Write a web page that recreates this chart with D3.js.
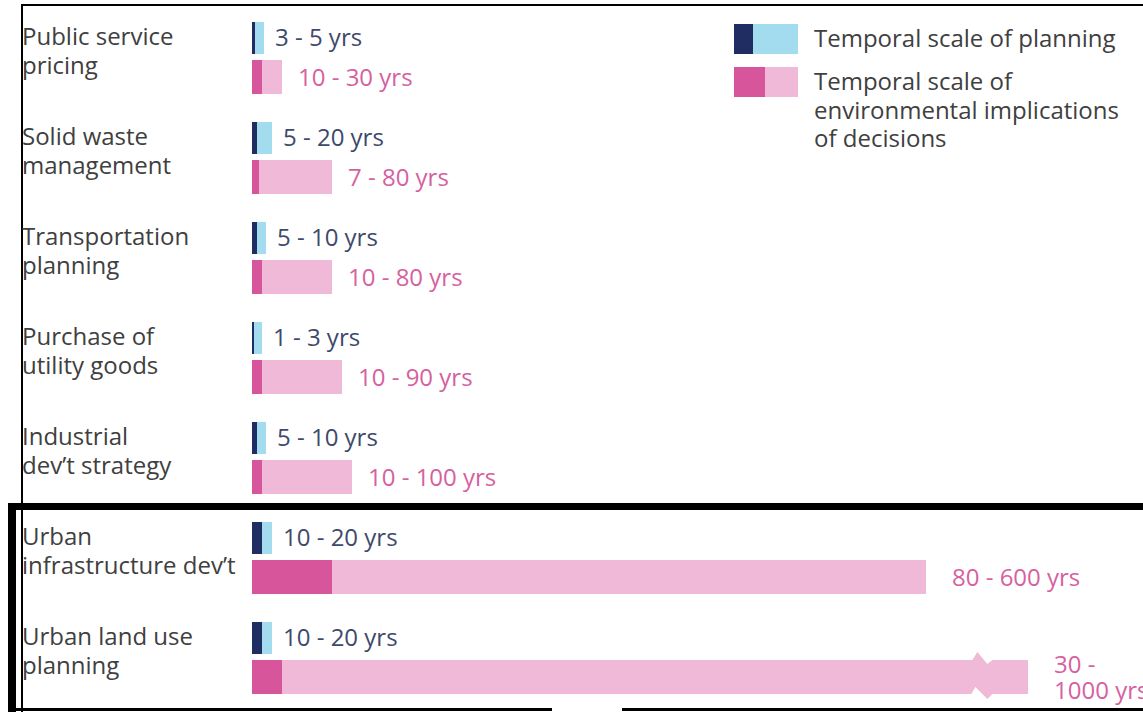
<!DOCTYPE html>
<html>
<head>
<meta charset="utf-8">
<script src="https://cdn.jsdelivr.net/npm/d3@7"></script>
<style>
  html, body { margin: 0; padding: 0; background: #fff; }
  svg { display: block; }
  text { font-family: "Open Sans", "Noto Sans", sans-serif; }
</style>
</head>
<body>
<svg id="chart" width="1143" height="712"></svg>
<script>
// ---- data ----
const categories = [
  "Public service pricing",
  "Solid waste management",
  "Transportation planning",
  "Purchase of utility goods",
  "Industrial dev\u2019t strategy",
  "Urban infrastructure dev\u2019t",
  "Urban land use planning"
];
const categoryLines = [
  ["Public service", "pricing"],
  ["Solid waste", "management"],
  ["Transportation", "planning"],
  ["Purchase of", "utility goods"],
  ["Industrial", "dev\u2019t strategy"],
  ["Urban", "infrastructure dev\u2019t"],
  ["Urban land use", "planning"]
];
const planStart = [3, 5, 5, 1, 5, 10, 10];
const planEnd   = [5, 20, 10, 3, 10, 20, 20];
const envStart  = [10, 7, 10, 10, 10, 80, 30];
const envEnd    = [30, 80, 80, 90, 100, 600, 1000];
const planLabels = ["3 - 5 yrs", "5 - 20 yrs", "5 - 10 yrs", "1 - 3 yrs", "5 - 10 yrs", "10 - 20 yrs", "10 - 20 yrs"];
const envLabels  = [["10 - 30 yrs"], ["7 - 80 yrs"], ["10 - 80 yrs"], ["10 - 90 yrs"], ["10 - 100 yrs"], ["80 - 600 yrs"], ["30 -", "1000 yrs"]];
const legendItems = [
  { key: "plan", lines: ["Temporal scale of planning"] },
  { key: "env",  lines: ["Temporal scale of", "environmental implications", "of decisions"] }
];
const axisBreakAt = 825; // value where the long bar is visually broken

// ---- styles ----
const C = {
  planDark: "#1f2d63", planLight: "#a3dcef",
  envDark: "#d6559b", envLight: "#f0b9d8",
  catText: "#404040", planText: "#3e496b", envText: "#d6619f"
};
const FONT = 24;

const svg = d3.select("#chart");

// scales (piecewise linear, compressed beyond 100 yrs)
const x = d3.scaleLinear()
  .domain([0, 10, 100, 600, 1000])
  .range([252, 262, 352, 926, 1028]);
const y = d3.scalePoint().domain(categories).range([22, 622]);

const planH = 32, envOff = 38, envH = 34;
const minLight = 9;

const rows = categories.map((c, i) => ({
  cat: c, lines: categoryLines[i],
  ps: planStart[i], pe: planEnd[i], es: envStart[i], ee: envEnd[i],
  pl: planLabels[i], el: envLabels[i]
}));

// ---- frames ----
const frame = svg.append("g");
frame.append("line").attr("x1", 22).attr("x2", 1143).attr("y1", 5).attr("y2", 5).attr("stroke", "#000").attr("stroke-width", 2);
frame.append("line").attr("x1", 22).attr("x2", 22).attr("y1", 4).attr("y2", 712).attr("stroke", "#000").attr("stroke-width", 2);
frame.append("line").attr("x1", 8).attr("x2", 1143).attr("y1", 506.5).attr("y2", 506.5).attr("stroke", "#000").attr("stroke-width", 7);
frame.append("line").attr("x1", 12).attr("x2", 12).attr("y1", 503).attr("y2", 712).attr("stroke", "#000").attr("stroke-width", 8);
frame.append("line").attr("x1", 8).attr("x2", 552).attr("y1", 709.5).attr("y2", 709.5).attr("stroke", "#000").attr("stroke-width", 3);
frame.append("line").attr("x1", 622).attr("x2", 1143).attr("y1", 709.5).attr("y2", 709.5).attr("stroke", "#000").attr("stroke-width", 3);

const g = svg.append("g");
const row = g.selectAll("g.row").data(rows).join("g").attr("class", "row")
  .attr("transform", d => `translate(0,${y(d.cat)})`);

// category labels
row.append("text")
  .attr("x", 23).attr("fill", C.catText).attr("font-size", FONT)
  .selectAll("tspan").data(d => d.lines).join("tspan")
  .attr("x", 22).attr("y", (d, i) => 23 + i * 28.5).text(d => d);

// planning bars
row.append("rect")
  .attr("x", d => x(d.ps))
  .attr("y", 0).attr("height", planH)
  .attr("width", d => Math.max(x(d.pe) - x(d.ps), minLight))
  .attr("fill", C.planLight);
row.append("rect")
  .attr("x", x(0)).attr("y", 0).attr("height", planH)
  .attr("width", d => Math.max(x(d.ps) - x(0), 2))
  .attr("fill", C.planDark);

// environmental bars
row.append("path")
  .attr("fill", C.envLight)
  .attr("d", d => {
    const x0 = x(d.es), x1 = x(d.ee), T = envOff, B = envOff + envH;
    if (d.ee <= axisBreakAt) {
      return `M${x0},${T}H${x1}V${B}H${x0}Z`;
    }
    const b = x(axisBreakAt);
    return `M${x0},${T}H${b - 11}L${b - 6},${T - 8}L${b + 4},${T + 4}L${b + 9},${T}H${x1}V${B}` +
           `H${b + 9}L${b + 4},${B + 5}L${b - 8},${B - 7}L${b - 12},${B}H${x0}Z`;
  });
row.append("rect")
  .attr("x", x(0)).attr("y", envOff).attr("height", envH)
  .attr("width", d => x(d.es) - x(0))
  .attr("fill", C.envDark);

// value labels
row.append("text")
  .attr("x", d => Math.max(x(d.pe), x(d.ps) + minLight) + 11)
  .attr("y", 24)
  .attr("fill", C.planText).attr("font-size", FONT)
  .text(d => d.pl);
row.append("text")
  .attr("fill", C.envText).attr("font-size", FONT)
  .each(function(d) {
    const gap = d.ee >= 600 ? 26 : 16;
    const t = d3.select(this);
    const n = d.el.length;
    t.selectAll("tspan").data(d.el).join("tspan")
      .attr("x", x(d.ee) + gap)
      .attr("y", (s, i) => envOff + 26 - (n - 1) * 13 + i * 26)
      .text(s => s);
  });

// ---- legend ----
const lg = svg.append("g");
const legY = d3.scalePoint().domain(legendItems.map(d => d.key)).range([24, 67]);
const sw = lg.selectAll("g").data(legendItems).join("g")
  .attr("transform", d => `translate(734,${legY(d.key)})`);
sw.append("rect").attr("x", 0).attr("y", 0).attr("width", 64).attr("height", 30)
  .attr("fill", d => d.key === "plan" ? C.planLight : C.envLight);
sw.append("rect").attr("x", 0).attr("y", 0)
  .attr("width", d => d.key === "plan" ? 19 : 31).attr("height", 30)
  .attr("fill", d => d.key === "plan" ? C.planDark : C.envDark);
sw.append("text").attr("fill", C.catText).attr("font-size", FONT)
  .selectAll("tspan").data(d => d.lines).join("tspan")
  .attr("x", 80).attr("y", (s, i) => 23 + i * 28.5).text(s => s);
</script>
</body>
</html>
